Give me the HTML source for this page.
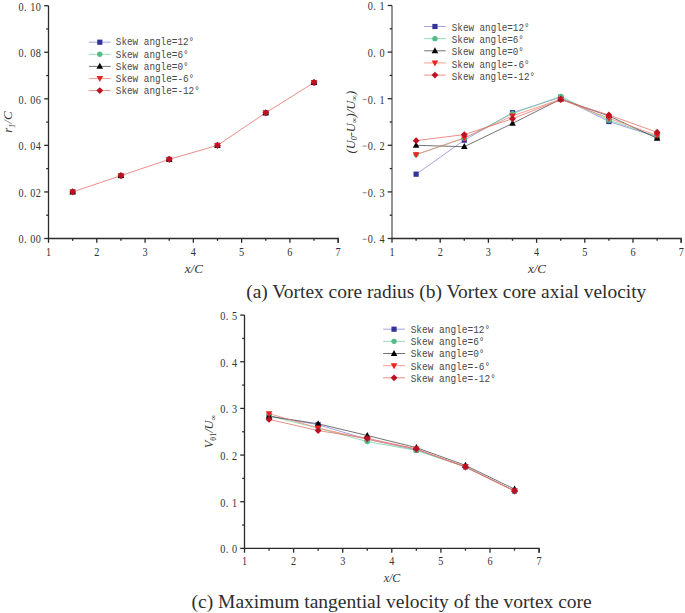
<!DOCTYPE html>
<html><head><meta charset="utf-8"><style>
html,body{margin:0;padding:0;background:#fff;}
body{width:685px;height:613px;overflow:hidden;}
svg{display:block;font-family:"Liberation Serif",serif;}
</style></head><body>
<svg width="685" height="613" viewBox="0 0 685 613">
<rect width="685" height="613" fill="#fff"/>
<path d="M48.50,5.70V238.50" fill="none" stroke="#2a2a2a" stroke-width="1.3"/>
<path d="M48.00,238.50H338.18V242.80" fill="none" stroke="#2a2a2a" stroke-width="1.3"/>
<path d="M44.20,238.50H48.50" stroke="#2a2a2a" stroke-width="1.3"/>
<path d="M44.20,191.94H48.50" stroke="#2a2a2a" stroke-width="1.3"/>
<path d="M44.20,145.38H48.50" stroke="#2a2a2a" stroke-width="1.3"/>
<path d="M44.20,98.82H48.50" stroke="#2a2a2a" stroke-width="1.3"/>
<path d="M44.20,52.26H48.50" stroke="#2a2a2a" stroke-width="1.3"/>
<path d="M44.20,5.70H48.50" stroke="#2a2a2a" stroke-width="1.3"/>
<path d="M46.20,215.22H48.50" stroke="#2a2a2a" stroke-width="1.3"/>
<path d="M46.20,168.66H48.50" stroke="#2a2a2a" stroke-width="1.3"/>
<path d="M46.20,122.10H48.50" stroke="#2a2a2a" stroke-width="1.3"/>
<path d="M46.20,75.54H48.50" stroke="#2a2a2a" stroke-width="1.3"/>
<path d="M46.20,28.98H48.50" stroke="#2a2a2a" stroke-width="1.3"/>
<path d="M48.50,238.50V242.80" stroke="#2a2a2a" stroke-width="1.3"/>
<path d="M96.78,238.50V242.80" stroke="#2a2a2a" stroke-width="1.3"/>
<path d="M145.06,238.50V242.80" stroke="#2a2a2a" stroke-width="1.3"/>
<path d="M193.34,238.50V242.80" stroke="#2a2a2a" stroke-width="1.3"/>
<path d="M241.62,238.50V242.80" stroke="#2a2a2a" stroke-width="1.3"/>
<path d="M289.90,238.50V242.80" stroke="#2a2a2a" stroke-width="1.3"/>
<path d="M338.18,238.50V242.80" stroke="#2a2a2a" stroke-width="1.3"/>
<path d="M72.64,238.50V240.80" stroke="#2a2a2a" stroke-width="1.3"/>
<path d="M120.92,238.50V240.80" stroke="#2a2a2a" stroke-width="1.3"/>
<path d="M169.20,238.50V240.80" stroke="#2a2a2a" stroke-width="1.3"/>
<path d="M217.48,238.50V240.80" stroke="#2a2a2a" stroke-width="1.3"/>
<path d="M265.76,238.50V240.80" stroke="#2a2a2a" stroke-width="1.3"/>
<path d="M314.04,238.50V240.80" stroke="#2a2a2a" stroke-width="1.3"/>
<text transform="translate(41.50,243.40) scale(0.84,1)" text-anchor="end" font-size="12.2" letter-spacing="0.6" fill="#333">0. 00</text>
<text transform="translate(41.50,196.84) scale(0.84,1)" text-anchor="end" font-size="12.2" letter-spacing="0.6" fill="#333">0. 02</text>
<text transform="translate(41.50,150.28) scale(0.84,1)" text-anchor="end" font-size="12.2" letter-spacing="0.6" fill="#333">0. 04</text>
<text transform="translate(41.50,103.72) scale(0.84,1)" text-anchor="end" font-size="12.2" letter-spacing="0.6" fill="#333">0. 06</text>
<text transform="translate(41.50,57.16) scale(0.84,1)" text-anchor="end" font-size="12.2" letter-spacing="0.6" fill="#333">0. 08</text>
<text transform="translate(41.50,10.60) scale(0.84,1)" text-anchor="end" font-size="12.2" letter-spacing="0.6" fill="#333">0. 10</text>
<text transform="translate(48.50,255.50) scale(0.84,1)" text-anchor="middle" font-size="12.2" fill="#333">1</text>
<text transform="translate(96.78,255.50) scale(0.84,1)" text-anchor="middle" font-size="12.2" fill="#333">2</text>
<text transform="translate(145.06,255.50) scale(0.84,1)" text-anchor="middle" font-size="12.2" fill="#333">3</text>
<text transform="translate(193.34,255.50) scale(0.84,1)" text-anchor="middle" font-size="12.2" fill="#333">4</text>
<text transform="translate(241.62,255.50) scale(0.84,1)" text-anchor="middle" font-size="12.2" fill="#333">5</text>
<text transform="translate(289.90,255.50) scale(0.84,1)" text-anchor="middle" font-size="12.2" fill="#333">6</text>
<text transform="translate(338.18,255.50) scale(0.84,1)" text-anchor="middle" font-size="12.2" fill="#333">7</text>
<polyline points="72.64,191.94 120.92,175.64 169.20,159.35 217.48,145.38 265.76,112.79 314.04,82.52" fill="none" stroke="#e26a64" stroke-width="0.75"/>
<rect x="70.04" y="189.34" width="5.20" height="5.20" fill="#333399"/>
<rect x="118.32" y="173.04" width="5.20" height="5.20" fill="#333399"/>
<rect x="166.60" y="156.75" width="5.20" height="5.20" fill="#333399"/>
<rect x="214.88" y="142.78" width="5.20" height="5.20" fill="#333399"/>
<rect x="263.16" y="110.19" width="5.20" height="5.20" fill="#333399"/>
<rect x="311.44" y="79.92" width="5.20" height="5.20" fill="#333399"/>
<circle cx="72.64" cy="191.94" r="2.70" fill="#55bb88"/>
<circle cx="120.92" cy="175.64" r="2.70" fill="#55bb88"/>
<circle cx="169.20" cy="159.35" r="2.70" fill="#55bb88"/>
<circle cx="217.48" cy="145.38" r="2.70" fill="#55bb88"/>
<circle cx="265.76" cy="112.79" r="2.70" fill="#55bb88"/>
<circle cx="314.04" cy="82.52" r="2.70" fill="#55bb88"/>
<path d="M72.64,188.34L75.94,194.34L69.34,194.34Z" fill="#000000"/>
<path d="M120.92,172.04L124.22,178.04L117.62,178.04Z" fill="#000000"/>
<path d="M169.20,155.75L172.50,161.75L165.90,161.75Z" fill="#000000"/>
<path d="M217.48,141.78L220.78,147.78L214.18,147.78Z" fill="#000000"/>
<path d="M265.76,109.19L269.06,115.19L262.46,115.19Z" fill="#000000"/>
<path d="M314.04,78.92L317.34,84.92L310.74,84.92Z" fill="#000000"/>
<path d="M72.64,195.54L75.94,189.54L69.34,189.54Z" fill="#ee2222"/>
<path d="M120.92,179.24L124.22,173.24L117.62,173.24Z" fill="#ee2222"/>
<path d="M169.20,162.95L172.50,156.95L165.90,156.95Z" fill="#ee2222"/>
<path d="M217.48,148.98L220.78,142.98L214.18,142.98Z" fill="#ee2222"/>
<path d="M265.76,116.39L269.06,110.39L262.46,110.39Z" fill="#ee2222"/>
<path d="M314.04,86.12L317.34,80.12L310.74,80.12Z" fill="#ee2222"/>
<path d="M72.64,188.54L76.04,191.94L72.64,195.34L69.24,191.94Z" fill="#bb1122"/>
<path d="M120.92,172.24L124.32,175.64L120.92,179.04L117.52,175.64Z" fill="#bb1122"/>
<path d="M169.20,155.95L172.60,159.35L169.20,162.75L165.80,159.35Z" fill="#bb1122"/>
<path d="M217.48,141.98L220.88,145.38L217.48,148.78L214.08,145.38Z" fill="#bb1122"/>
<path d="M265.76,109.39L269.16,112.79L265.76,116.19L262.36,112.79Z" fill="#bb1122"/>
<path d="M314.04,79.12L317.44,82.52L314.04,85.92L310.64,82.52Z" fill="#bb1122"/>
<path d="M88.90,42.20H110.70" stroke="#8484d4" stroke-width="0.75"/>
<rect x="97.20" y="39.60" width="5.20" height="5.20" fill="#333399"/>
<text x="115.80" y="45.40" font-family="Liberation Mono" font-size="11.8" fill="#474747" textLength="78.4" lengthAdjust="spacingAndGlyphs">Skew angle=12°</text>
<path d="M88.90,54.30H110.70" stroke="#72cc9c" stroke-width="0.75"/>
<circle cx="99.80" cy="54.30" r="2.70" fill="#55bb88"/>
<text x="115.80" y="57.50" font-family="Liberation Mono" font-size="11.8" fill="#474747" textLength="72.8" lengthAdjust="spacingAndGlyphs">Skew angle=6°</text>
<path d="M88.90,66.40H110.70" stroke="#444444" stroke-width="0.75"/>
<path d="M99.80,62.80L103.10,68.80L96.50,68.80Z" fill="#000000"/>
<text x="115.80" y="69.60" font-family="Liberation Mono" font-size="11.8" fill="#474747" textLength="72.8" lengthAdjust="spacingAndGlyphs">Skew angle=0°</text>
<path d="M88.90,78.50H110.70" stroke="#f4806c" stroke-width="0.75"/>
<path d="M99.80,82.10L103.10,76.10L96.50,76.10Z" fill="#ee2222"/>
<text x="115.80" y="81.70" font-family="Liberation Mono" font-size="11.8" fill="#474747" textLength="78.4" lengthAdjust="spacingAndGlyphs">Skew angle=-6°</text>
<path d="M88.90,90.60H110.70" stroke="#e26a64" stroke-width="0.75"/>
<path d="M99.80,87.20L103.20,90.60L99.80,94.00L96.40,90.60Z" fill="#bb1122"/>
<text x="115.80" y="93.80" font-family="Liberation Mono" font-size="11.8" fill="#474747" textLength="84.0" lengthAdjust="spacingAndGlyphs">Skew angle=-12°</text>
<text transform="translate(12.1,122.1) rotate(-90)" text-anchor="middle" font-size="13" font-style="italic" fill="#333">r<tspan font-size="8" dy="3.3">1</tspan><tspan dy="-3.3">/C</tspan></text>
<text x="193.8" y="272.8" text-anchor="middle" font-size="13" font-style="italic" fill="#333">x/C</text>
<path d="M392.00,5.50V238.50" fill="none" stroke="#2a2a2a" stroke-width="1.0"/>
<path d="M391.50,238.50H681.20V242.80" fill="none" stroke="#2a2a2a" stroke-width="1.3"/>
<path d="M387.70,238.50H392.00" stroke="#2a2a2a" stroke-width="1.3"/>
<path d="M387.70,191.90H392.00" stroke="#2a2a2a" stroke-width="1.3"/>
<path d="M387.70,145.30H392.00" stroke="#2a2a2a" stroke-width="1.3"/>
<path d="M387.70,98.70H392.00" stroke="#2a2a2a" stroke-width="1.3"/>
<path d="M387.70,52.10H392.00" stroke="#2a2a2a" stroke-width="1.3"/>
<path d="M387.70,5.50H392.00" stroke="#2a2a2a" stroke-width="1.3"/>
<path d="M389.70,215.20H392.00" stroke="#2a2a2a" stroke-width="1.3"/>
<path d="M389.70,168.60H392.00" stroke="#2a2a2a" stroke-width="1.3"/>
<path d="M389.70,122.00H392.00" stroke="#2a2a2a" stroke-width="1.3"/>
<path d="M389.70,75.40H392.00" stroke="#2a2a2a" stroke-width="1.3"/>
<path d="M389.70,28.80H392.00" stroke="#2a2a2a" stroke-width="1.3"/>
<path d="M392.00,238.50V242.80" stroke="#2a2a2a" stroke-width="1.3"/>
<path d="M440.20,238.50V242.80" stroke="#2a2a2a" stroke-width="1.3"/>
<path d="M488.40,238.50V242.80" stroke="#2a2a2a" stroke-width="1.3"/>
<path d="M536.60,238.50V242.80" stroke="#2a2a2a" stroke-width="1.3"/>
<path d="M584.80,238.50V242.80" stroke="#2a2a2a" stroke-width="1.3"/>
<path d="M633.00,238.50V242.80" stroke="#2a2a2a" stroke-width="1.3"/>
<path d="M681.20,238.50V242.80" stroke="#2a2a2a" stroke-width="1.3"/>
<path d="M416.10,238.50V240.80" stroke="#2a2a2a" stroke-width="1.3"/>
<path d="M464.30,238.50V240.80" stroke="#2a2a2a" stroke-width="1.3"/>
<path d="M512.50,238.50V240.80" stroke="#2a2a2a" stroke-width="1.3"/>
<path d="M560.70,238.50V240.80" stroke="#2a2a2a" stroke-width="1.3"/>
<path d="M608.90,238.50V240.80" stroke="#2a2a2a" stroke-width="1.3"/>
<path d="M657.10,238.50V240.80" stroke="#2a2a2a" stroke-width="1.3"/>
<path d="M362.60,239.30H366.60" stroke="#9a9a9a" stroke-width="1.2"/>
<text transform="translate(385.00,243.40) scale(0.84,1)" text-anchor="end" font-size="12.2" letter-spacing="0.6" fill="#333">0. 4</text>
<path d="M362.60,192.70H366.60" stroke="#9a9a9a" stroke-width="1.2"/>
<text transform="translate(385.00,196.80) scale(0.84,1)" text-anchor="end" font-size="12.2" letter-spacing="0.6" fill="#333">0. 3</text>
<path d="M362.60,146.10H366.60" stroke="#9a9a9a" stroke-width="1.2"/>
<text transform="translate(385.00,150.20) scale(0.84,1)" text-anchor="end" font-size="12.2" letter-spacing="0.6" fill="#333">0. 2</text>
<path d="M362.60,99.50H366.60" stroke="#9a9a9a" stroke-width="1.2"/>
<text transform="translate(385.00,103.60) scale(0.84,1)" text-anchor="end" font-size="12.2" letter-spacing="0.6" fill="#333">0. 1</text>
<text transform="translate(385.00,57.00) scale(0.84,1)" text-anchor="end" font-size="12.2" letter-spacing="0.6" fill="#333">0. 0</text>
<text transform="translate(385.00,10.40) scale(0.84,1)" text-anchor="end" font-size="12.2" letter-spacing="0.6" fill="#333">0. 1</text>
<text transform="translate(392.00,255.50) scale(0.84,1)" text-anchor="middle" font-size="12.2" fill="#333">1</text>
<text transform="translate(440.20,255.50) scale(0.84,1)" text-anchor="middle" font-size="12.2" fill="#333">2</text>
<text transform="translate(488.40,255.50) scale(0.84,1)" text-anchor="middle" font-size="12.2" fill="#333">3</text>
<text transform="translate(536.60,255.50) scale(0.84,1)" text-anchor="middle" font-size="12.2" fill="#333">4</text>
<text transform="translate(584.80,255.50) scale(0.84,1)" text-anchor="middle" font-size="12.2" fill="#333">5</text>
<text transform="translate(633.00,255.50) scale(0.84,1)" text-anchor="middle" font-size="12.2" fill="#333">6</text>
<text transform="translate(681.20,255.50) scale(0.84,1)" text-anchor="middle" font-size="12.2" fill="#333">7</text>
<polyline points="416.10,174.19 464.30,140.17 512.50,112.68 560.70,97.30 608.90,121.53 657.10,136.91" fill="none" stroke="#8484d4" stroke-width="0.75"/>
<polyline points="416.10,154.62 464.30,138.31 512.50,113.61 560.70,96.37 608.90,120.14 657.10,136.45" fill="none" stroke="#72cc9c" stroke-width="0.75"/>
<polyline points="416.10,145.30 464.30,146.70 512.50,123.40 560.70,99.17 608.90,115.94 657.10,138.31" fill="none" stroke="#444444" stroke-width="0.75"/>
<polyline points="416.10,154.62 464.30,137.84 512.50,115.94 560.70,99.17 608.90,118.27 657.10,135.51" fill="none" stroke="#f4806c" stroke-width="0.75"/>
<polyline points="416.10,140.64 464.30,134.58 512.50,118.74 560.70,99.63 608.90,115.01 657.10,132.25" fill="none" stroke="#e26a64" stroke-width="0.75"/>
<rect x="413.50" y="171.59" width="5.20" height="5.20" fill="#333399"/>
<rect x="461.70" y="137.57" width="5.20" height="5.20" fill="#333399"/>
<rect x="509.90" y="110.08" width="5.20" height="5.20" fill="#333399"/>
<rect x="558.10" y="94.70" width="5.20" height="5.20" fill="#333399"/>
<rect x="606.30" y="118.93" width="5.20" height="5.20" fill="#333399"/>
<rect x="654.50" y="134.31" width="5.20" height="5.20" fill="#333399"/>
<circle cx="416.10" cy="154.62" r="2.70" fill="#55bb88"/>
<circle cx="464.30" cy="138.31" r="2.70" fill="#55bb88"/>
<circle cx="512.50" cy="113.61" r="2.70" fill="#55bb88"/>
<circle cx="560.70" cy="96.37" r="2.70" fill="#55bb88"/>
<circle cx="608.90" cy="120.14" r="2.70" fill="#55bb88"/>
<circle cx="657.10" cy="136.45" r="2.70" fill="#55bb88"/>
<path d="M416.10,141.70L419.40,147.70L412.80,147.70Z" fill="#000000"/>
<path d="M464.30,143.10L467.60,149.10L461.00,149.10Z" fill="#000000"/>
<path d="M512.50,119.80L515.80,125.80L509.20,125.80Z" fill="#000000"/>
<path d="M560.70,95.57L564.00,101.57L557.40,101.57Z" fill="#000000"/>
<path d="M608.90,112.34L612.20,118.34L605.60,118.34Z" fill="#000000"/>
<path d="M657.10,134.71L660.40,140.71L653.80,140.71Z" fill="#000000"/>
<path d="M416.10,158.22L419.40,152.22L412.80,152.22Z" fill="#ee2222"/>
<path d="M464.30,141.44L467.60,135.44L461.00,135.44Z" fill="#ee2222"/>
<path d="M512.50,119.54L515.80,113.54L509.20,113.54Z" fill="#ee2222"/>
<path d="M560.70,102.77L564.00,96.77L557.40,96.77Z" fill="#ee2222"/>
<path d="M608.90,121.87L612.20,115.87L605.60,115.87Z" fill="#ee2222"/>
<path d="M657.10,139.11L660.40,133.11L653.80,133.11Z" fill="#ee2222"/>
<path d="M416.10,137.24L419.50,140.64L416.10,144.04L412.70,140.64Z" fill="#bb1122"/>
<path d="M464.30,131.18L467.70,134.58L464.30,137.98L460.90,134.58Z" fill="#bb1122"/>
<path d="M512.50,115.34L515.90,118.74L512.50,122.14L509.10,118.74Z" fill="#bb1122"/>
<path d="M560.70,96.23L564.10,99.63L560.70,103.03L557.30,99.63Z" fill="#bb1122"/>
<path d="M608.90,111.61L612.30,115.01L608.90,118.41L605.50,115.01Z" fill="#bb1122"/>
<path d="M657.10,128.85L660.50,132.25L657.10,135.65L653.70,132.25Z" fill="#bb1122"/>
<path d="M424.20,26.50H445.70" stroke="#8484d4" stroke-width="0.75"/>
<rect x="432.35" y="23.90" width="5.20" height="5.20" fill="#333399"/>
<text x="451.80" y="31.10" font-family="Liberation Mono" font-size="11.8" fill="#474747" textLength="77.7" lengthAdjust="spacingAndGlyphs">Skew angle=12°</text>
<path d="M424.20,38.65H445.70" stroke="#72cc9c" stroke-width="0.75"/>
<circle cx="434.95" cy="38.65" r="2.70" fill="#55bb88"/>
<text x="451.80" y="43.25" font-family="Liberation Mono" font-size="11.8" fill="#474747" textLength="72.1" lengthAdjust="spacingAndGlyphs">Skew angle=6°</text>
<path d="M424.20,50.80H445.70" stroke="#444444" stroke-width="0.75"/>
<path d="M434.95,47.20L438.25,53.20L431.65,53.20Z" fill="#000000"/>
<text x="451.80" y="55.40" font-family="Liberation Mono" font-size="11.8" fill="#474747" textLength="72.1" lengthAdjust="spacingAndGlyphs">Skew angle=0°</text>
<path d="M424.20,62.95H445.70" stroke="#f4806c" stroke-width="0.75"/>
<path d="M434.95,66.55L438.25,60.55L431.65,60.55Z" fill="#ee2222"/>
<text x="451.80" y="67.55" font-family="Liberation Mono" font-size="11.8" fill="#474747" textLength="77.7" lengthAdjust="spacingAndGlyphs">Skew angle=-6°</text>
<path d="M424.20,75.10H445.70" stroke="#e26a64" stroke-width="0.75"/>
<path d="M434.95,71.70L438.35,75.10L434.95,78.50L431.55,75.10Z" fill="#bb1122"/>
<text x="451.80" y="79.70" font-family="Liberation Mono" font-size="11.8" fill="#474747" textLength="83.2" lengthAdjust="spacingAndGlyphs">Skew angle=-12°</text>
<text transform="translate(354.8,122.2) rotate(-90)" text-anchor="middle" font-size="12.5" font-style="italic" fill="#333">(U<tspan font-size="8" dy="2.5">0</tspan><tspan dy="-2.5">-U</tspan><tspan font-size="8" dy="2.5">∞</tspan><tspan dy="-2.5">)/U</tspan><tspan font-size="8" dy="2.5">∞</tspan><tspan dy="-2.5">)</tspan></text>
<text x="537" y="272.5" text-anchor="middle" font-size="13" font-style="italic" fill="#333">x/C</text>
<path d="M244.50,315.10V548.40" fill="none" stroke="#2a2a2a" stroke-width="1.3"/>
<path d="M244.00,548.40H539.10V552.70" fill="none" stroke="#2a2a2a" stroke-width="1.3"/>
<path d="M240.20,548.40H244.50" stroke="#2a2a2a" stroke-width="1.3"/>
<path d="M240.20,501.74H244.50" stroke="#2a2a2a" stroke-width="1.3"/>
<path d="M240.20,455.08H244.50" stroke="#2a2a2a" stroke-width="1.3"/>
<path d="M240.20,408.42H244.50" stroke="#2a2a2a" stroke-width="1.3"/>
<path d="M240.20,361.76H244.50" stroke="#2a2a2a" stroke-width="1.3"/>
<path d="M240.20,315.10H244.50" stroke="#2a2a2a" stroke-width="1.3"/>
<path d="M242.20,525.07H244.50" stroke="#2a2a2a" stroke-width="1.3"/>
<path d="M242.20,478.41H244.50" stroke="#2a2a2a" stroke-width="1.3"/>
<path d="M242.20,431.75H244.50" stroke="#2a2a2a" stroke-width="1.3"/>
<path d="M242.20,385.09H244.50" stroke="#2a2a2a" stroke-width="1.3"/>
<path d="M242.20,338.43H244.50" stroke="#2a2a2a" stroke-width="1.3"/>
<path d="M244.50,548.40V552.70" stroke="#2a2a2a" stroke-width="1.3"/>
<path d="M293.60,548.40V552.70" stroke="#2a2a2a" stroke-width="1.3"/>
<path d="M342.70,548.40V552.70" stroke="#2a2a2a" stroke-width="1.3"/>
<path d="M391.80,548.40V552.70" stroke="#2a2a2a" stroke-width="1.3"/>
<path d="M440.90,548.40V552.70" stroke="#2a2a2a" stroke-width="1.3"/>
<path d="M490.00,548.40V552.70" stroke="#2a2a2a" stroke-width="1.3"/>
<path d="M539.10,548.40V552.70" stroke="#2a2a2a" stroke-width="1.3"/>
<path d="M269.05,548.40V550.70" stroke="#2a2a2a" stroke-width="1.3"/>
<path d="M318.15,548.40V550.70" stroke="#2a2a2a" stroke-width="1.3"/>
<path d="M367.25,548.40V550.70" stroke="#2a2a2a" stroke-width="1.3"/>
<path d="M416.35,548.40V550.70" stroke="#2a2a2a" stroke-width="1.3"/>
<path d="M465.45,548.40V550.70" stroke="#2a2a2a" stroke-width="1.3"/>
<path d="M514.55,548.40V550.70" stroke="#2a2a2a" stroke-width="1.3"/>
<text transform="translate(237.50,553.30) scale(0.84,1)" text-anchor="end" font-size="12.2" letter-spacing="0.6" fill="#333">0. 0</text>
<text transform="translate(237.50,506.64) scale(0.84,1)" text-anchor="end" font-size="12.2" letter-spacing="0.6" fill="#333">0. 1</text>
<text transform="translate(237.50,459.98) scale(0.84,1)" text-anchor="end" font-size="12.2" letter-spacing="0.6" fill="#333">0. 2</text>
<text transform="translate(237.50,413.32) scale(0.84,1)" text-anchor="end" font-size="12.2" letter-spacing="0.6" fill="#333">0. 3</text>
<text transform="translate(237.50,366.66) scale(0.84,1)" text-anchor="end" font-size="12.2" letter-spacing="0.6" fill="#333">0. 4</text>
<text transform="translate(237.50,320.00) scale(0.84,1)" text-anchor="end" font-size="12.2" letter-spacing="0.6" fill="#333">0. 5</text>
<text transform="translate(244.50,565.40) scale(0.84,1)" text-anchor="middle" font-size="12.2" fill="#333">1</text>
<text transform="translate(293.60,565.40) scale(0.84,1)" text-anchor="middle" font-size="12.2" fill="#333">2</text>
<text transform="translate(342.70,565.40) scale(0.84,1)" text-anchor="middle" font-size="12.2" fill="#333">3</text>
<text transform="translate(391.80,565.40) scale(0.84,1)" text-anchor="middle" font-size="12.2" fill="#333">4</text>
<text transform="translate(440.90,565.40) scale(0.84,1)" text-anchor="middle" font-size="12.2" fill="#333">5</text>
<text transform="translate(490.00,565.40) scale(0.84,1)" text-anchor="middle" font-size="12.2" fill="#333">6</text>
<text transform="translate(539.10,565.40) scale(0.84,1)" text-anchor="middle" font-size="12.2" fill="#333">7</text>
<polyline points="269.05,415.89 318.15,424.75 367.25,439.22 416.35,449.95 465.45,466.75 514.55,491.01" fill="none" stroke="#8484d4" stroke-width="0.75"/>
<polyline points="269.05,415.89 318.15,428.02 367.25,441.55 416.35,450.41 465.45,466.75 514.55,491.01" fill="none" stroke="#72cc9c" stroke-width="0.75"/>
<polyline points="269.05,416.35 318.15,423.82 367.25,435.48 416.35,447.61 465.45,465.35 514.55,489.14" fill="none" stroke="#444444" stroke-width="0.75"/>
<polyline points="269.05,413.55 318.15,428.02 367.25,439.22 416.35,449.01 465.45,466.75 514.55,491.01" fill="none" stroke="#f4806c" stroke-width="0.75"/>
<polyline points="269.05,419.39 318.15,430.58 367.25,438.28 416.35,449.01 465.45,467.21 514.55,491.01" fill="none" stroke="#e26a64" stroke-width="0.75"/>
<rect x="266.45" y="413.29" width="5.20" height="5.20" fill="#333399"/>
<rect x="315.55" y="422.15" width="5.20" height="5.20" fill="#333399"/>
<rect x="364.65" y="436.62" width="5.20" height="5.20" fill="#333399"/>
<rect x="413.75" y="447.35" width="5.20" height="5.20" fill="#333399"/>
<rect x="462.85" y="464.14" width="5.20" height="5.20" fill="#333399"/>
<rect x="511.95" y="488.41" width="5.20" height="5.20" fill="#333399"/>
<circle cx="269.05" cy="415.89" r="2.70" fill="#55bb88"/>
<circle cx="318.15" cy="428.02" r="2.70" fill="#55bb88"/>
<circle cx="367.25" cy="441.55" r="2.70" fill="#55bb88"/>
<circle cx="416.35" cy="450.41" r="2.70" fill="#55bb88"/>
<circle cx="465.45" cy="466.75" r="2.70" fill="#55bb88"/>
<circle cx="514.55" cy="491.01" r="2.70" fill="#55bb88"/>
<path d="M269.05,412.75L272.35,418.75L265.75,418.75Z" fill="#000000"/>
<path d="M318.15,420.22L321.45,426.22L314.85,426.22Z" fill="#000000"/>
<path d="M367.25,431.88L370.55,437.88L363.95,437.88Z" fill="#000000"/>
<path d="M416.35,444.01L419.65,450.01L413.05,450.01Z" fill="#000000"/>
<path d="M465.45,461.75L468.75,467.75L462.15,467.75Z" fill="#000000"/>
<path d="M514.55,485.54L517.85,491.54L511.25,491.54Z" fill="#000000"/>
<path d="M269.05,417.15L272.35,411.15L265.75,411.15Z" fill="#ee2222"/>
<path d="M318.15,431.62L321.45,425.62L314.85,425.62Z" fill="#ee2222"/>
<path d="M367.25,442.82L370.55,436.82L363.95,436.82Z" fill="#ee2222"/>
<path d="M416.35,452.61L419.65,446.61L413.05,446.61Z" fill="#ee2222"/>
<path d="M465.45,470.35L468.75,464.35L462.15,464.35Z" fill="#ee2222"/>
<path d="M514.55,494.61L517.85,488.61L511.25,488.61Z" fill="#ee2222"/>
<path d="M269.05,415.99L272.45,419.39L269.05,422.79L265.65,419.39Z" fill="#bb1122"/>
<path d="M318.15,427.18L321.55,430.58L318.15,433.98L314.75,430.58Z" fill="#bb1122"/>
<path d="M367.25,434.88L370.65,438.28L367.25,441.68L363.85,438.28Z" fill="#bb1122"/>
<path d="M416.35,445.61L419.75,449.01L416.35,452.41L412.95,449.01Z" fill="#bb1122"/>
<path d="M465.45,463.81L468.85,467.21L465.45,470.61L462.05,467.21Z" fill="#bb1122"/>
<path d="M514.55,487.61L517.95,491.01L514.55,494.41L511.15,491.01Z" fill="#bb1122"/>
<path d="M383.10,329.20H405.00" stroke="#8484d4" stroke-width="0.75"/>
<rect x="391.45" y="326.60" width="5.20" height="5.20" fill="#333399"/>
<text x="410.70" y="333.10" font-family="Liberation Mono" font-size="11.8" fill="#474747" textLength="79.5" lengthAdjust="spacingAndGlyphs">Skew angle=12°</text>
<path d="M383.10,341.35H405.00" stroke="#72cc9c" stroke-width="0.75"/>
<circle cx="394.05" cy="341.35" r="2.70" fill="#55bb88"/>
<text x="410.70" y="345.25" font-family="Liberation Mono" font-size="11.8" fill="#474747" textLength="73.8" lengthAdjust="spacingAndGlyphs">Skew angle=6°</text>
<path d="M383.10,353.50H405.00" stroke="#444444" stroke-width="0.75"/>
<path d="M394.05,349.90L397.35,355.90L390.75,355.90Z" fill="#000000"/>
<text x="410.70" y="357.40" font-family="Liberation Mono" font-size="11.8" fill="#474747" textLength="73.8" lengthAdjust="spacingAndGlyphs">Skew angle=0°</text>
<path d="M383.10,365.65H405.00" stroke="#f4806c" stroke-width="0.75"/>
<path d="M394.05,369.25L397.35,363.25L390.75,363.25Z" fill="#ee2222"/>
<text x="410.70" y="369.55" font-family="Liberation Mono" font-size="11.8" fill="#474747" textLength="79.5" lengthAdjust="spacingAndGlyphs">Skew angle=-6°</text>
<path d="M383.10,377.80H405.00" stroke="#e26a64" stroke-width="0.75"/>
<path d="M394.05,374.40L397.45,377.80L394.05,381.20L390.65,377.80Z" fill="#bb1122"/>
<text x="410.70" y="381.70" font-family="Liberation Mono" font-size="11.8" fill="#474747" textLength="85.2" lengthAdjust="spacingAndGlyphs">Skew angle=-12°</text>
<text transform="translate(213,431.5) rotate(-90)" text-anchor="middle" font-size="12.5" font-style="italic" fill="#333">V<tspan font-size="8" dy="3" font-style="normal">θ1</tspan><tspan dy="-3">/U</tspan><tspan font-size="8" dy="3">∞</tspan></text>
<text x="392" y="582.2" text-anchor="middle" font-size="12" font-style="italic" fill="#333">x/C</text>
<text x="246.2" y="298.1" font-size="19.45" fill="#2e2e2e">(a) Vortex core radius (b) Vortex core axial velocity</text>
<text x="191.6" y="608.0" font-size="19.5" fill="#2e2e2e">(c) Maximum tangential velocity of the vortex core</text>
</svg>
</body></html>
